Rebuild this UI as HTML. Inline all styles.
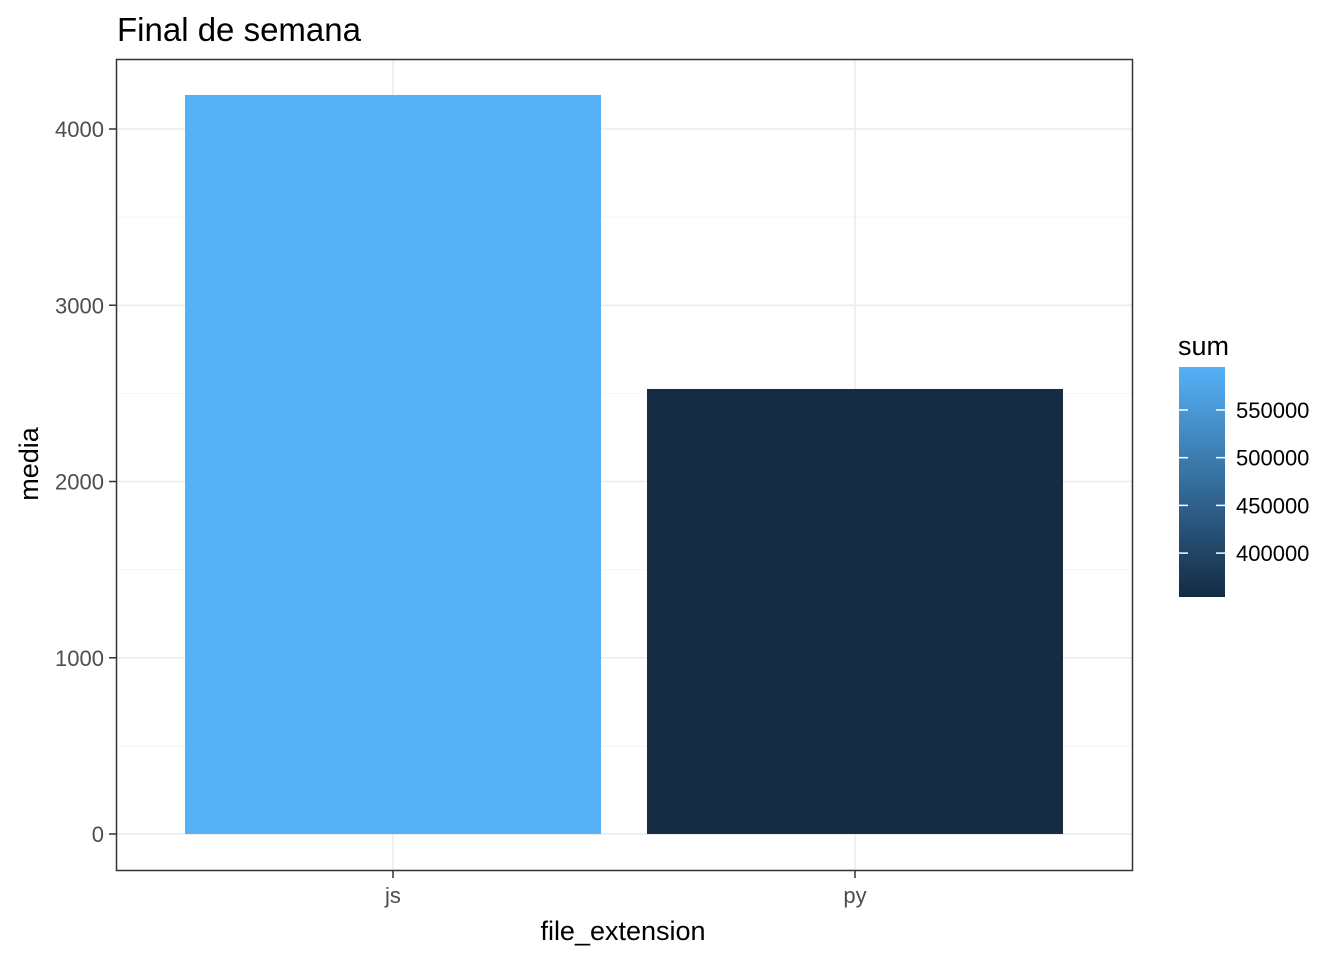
<!DOCTYPE html>
<html><head><meta charset="utf-8"><style>
body{margin:0;background:#fff;}
svg{display:block;font-family:"Liberation Sans",Arial,sans-serif;}
</style></head><body>
<svg id="chart" width="1344" height="960">
<defs><linearGradient id="grad" x1="0" y1="1" x2="0" y2="0">
<stop offset="0" stop-color="#152B43"/><stop offset="1" stop-color="#56B1F7"/></linearGradient></defs>
<rect x="0" y="0" width="1344" height="960" fill="#fff"/>
<text x="117" y="41" font-size="33" fill="#000">Final de semana</text>
<g id="grid"></g>
<g id="bars"></g>
<rect x="116.5" y="59.5" width="1016" height="811" fill="none" stroke="#333" stroke-width="1.5"/>
<g id="axes"></g>
<text x="623" y="940" font-size="27" text-anchor="middle">file_extension</text>
<text transform="translate(38,464) rotate(-90)" font-size="27" text-anchor="middle">media</text>
<g id="legend">
<text x="1178" y="355" font-size="27">sum</text>
<rect x="1179" y="367" width="46" height="230" fill="url(#grad)"/>
</g>
</svg>
<script>
const categories=["js","py"];
const media=[4193,2525];
const sums=[595000,354000];
const yTicks=[0,1000,2000,3000,4000];
const legendTicks=[400000,450000,500000,550000];
const NS="http://www.w3.org/2000/svg";
function el(t,a,p){const e=document.createElementNS(NS,t);for(const k in a)e.setAttribute(k,a[k]);p.appendChild(e);return e;}
const y=v=>834-v*0.17625;
const x=i=>393+i*462;
const bw=416;
const sMin=354000,sMax=595000;
const ly=v=>597-(v-sMin)/(sMax-sMin)*230;
function col(v){const t=(v-sMin)/(sMax-sMin);const a=[0x16,0x2C,0x44],b=[0x56,0xB1,0xF7];return "rgb("+a.map((c,i)=>Math.round(c+(b[i]-c)*t)).join(",")+")";}
const grid=document.getElementById("grid"),bars=document.getElementById("bars"),axes=document.getElementById("axes"),leg=document.getElementById("legend");
for(let i=0;i<yTicks.length;i++){
  const v=yTicks[i];
  const g=el("line",{x1:117,x2:1132,y1:y(v),y2:y(v),stroke:"#EBEBEB","stroke-width":1.5},grid);
  
  
  if(i<yTicks.length-1){const m=el("line",{x1:117,x2:1132,y1:y(v+500),y2:y(v+500),stroke:"#F4F4F4","stroke-width":1},grid);
  
  }
  const tk=el("line",{x1:109,x2:116,y1:y(v),y2:y(v),stroke:"#333","stroke-width":1.5},axes);
  
  
  const tl=el("text",{x:104,y:y(v)+8,"font-size":22,"text-anchor":"end",fill:"#4D4D4D"},axes);
  tl.textContent=v;
  
  
}
categories.forEach((c,i)=>{
  const g=el("line",{x1:x(i),x2:x(i),y1:60,y2:870,stroke:"#EBEBEB","stroke-width":1.5},grid);
  
  
  const b=el("rect",{x:x(i)-bw/2,y:y(media[i]),width:bw,height:y(0)-y(media[i]),fill:col(sums[i])},bars);
  
  
  const tk=el("line",{x1:x(i),x2:x(i),y1:871,y2:878,stroke:"#333","stroke-width":1.5},axes);
  
  
  const tl=el("text",{x:x(i),y:903,"font-size":22,"text-anchor":"middle",fill:"#4D4D4D"},axes);
  tl.textContent=c;
  
  
});
legendTicks.forEach(v=>{
  const a=el("line",{x1:1179,x2:1188,y1:ly(v),y2:ly(v),stroke:"#fff","stroke-width":1.5},leg);
  
  
  const b=el("line",{x1:1216,x2:1225,y1:ly(v),y2:ly(v),stroke:"#fff","stroke-width":1.5},leg);
  
  
  const t=el("text",{x:1236,y:ly(v)+8,"font-size":22,fill:"#000"},leg);
  t.textContent=v;
  
  
});
</script>
</body></html>
